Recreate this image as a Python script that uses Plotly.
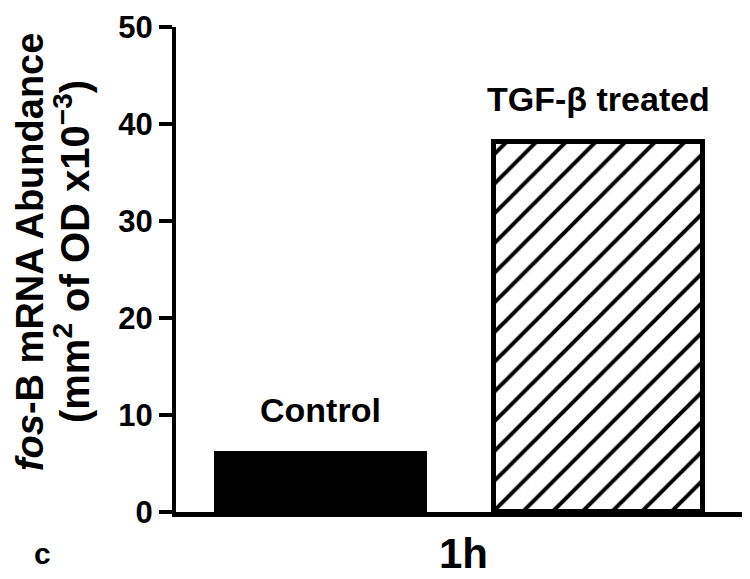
import plotly.graph_objects as go

categories = ["Control", "TGF-β treated"]
values = [6.1, 38.1]
y_ticks = [0, 10, 20, 30, 40, 50]
x_label = "1h"
panel_label = "c"
y_title_line1 = "<i>fos</i>-B mRNA Abundance"
y_title_line2 = "(mm<sup>2</sup> of OD x10<sup>−3</sup>)"

FONT = "Liberation Sans, Arial, Helvetica, sans-serif"

fig = go.Figure()
fig.add_trace(go.Bar(
    x=[categories[0]], y=[values[0]], width=0.75,
    marker=dict(color="black", line=dict(color="black", width=4)),
    hoverinfo="skip", showlegend=False,
))
fig.add_trace(go.Bar(
    x=[categories[1]], y=[values[1]], width=0.75,
    marker=dict(color="white", line=dict(color="black", width=5),
                pattern=dict(shape="/", fgcolor="black", bgcolor="white",
                             size=21, solidity=0.19, fgopacity=1)),
    hoverinfo="skip", showlegend=False,
))

annotations = []
for c, v in zip(categories, values):
    annotations.append(dict(x=c, y=v, xref="x", yref="y", text=c, showarrow=False,
                            yanchor="middle", yshift=43,
                            font=dict(family=FONT, size=34, color="black", weight="bold")))
annotations += [
    dict(x=0.5, y=-0.085, xref="paper", yref="paper", text=x_label, showarrow=False,
         xanchor="center", yanchor="middle",
         font=dict(family=FONT, size=42, color="black", weight="bold")),
    dict(x=-0.232, y=-0.085, xref="paper", yref="paper", text=panel_label, showarrow=False,
         xanchor="center", yanchor="middle",
         font=dict(family=FONT, size=30, color="black", weight="bold")),
    dict(x=0, y=0.536, xref="paper", yref="paper", text=y_title_line1, showarrow=False,
         xanchor="center", yanchor="middle", xshift=-146, textangle=-90,
         font=dict(family=FONT, size=38, color="black", weight="bold")),
    dict(x=0, y=0.536, xref="paper", yref="paper", text=y_title_line2, showarrow=False,
         xanchor="center", yanchor="middle", xshift=-104, textangle=-90,
         font=dict(family=FONT, size=40, color="black", weight="bold")),
]

fig.update_layout(
    width=742, height=571,
    margin=dict(l=168, r=0, t=19, b=67),
    paper_bgcolor="white", plot_bgcolor="white",
    bargap=0,
    annotations=annotations,
    xaxis=dict(type="category", range=[-0.52, 1.545], showticklabels=False,
               ticks="", showgrid=False, zeroline=False,
               showline=True, linecolor="black", linewidth=5),
    yaxis=dict(range=[0, 50], tickvals=y_ticks, ticks="outside", ticklen=13,
               tickwidth=4, tickcolor="black", showgrid=False, zeroline=False,
               showline=True, linecolor="black", linewidth=4,
               tickfont=dict(family=FONT, size=31, color="black", weight="bold")),
)

fig.write_html("out.html")
